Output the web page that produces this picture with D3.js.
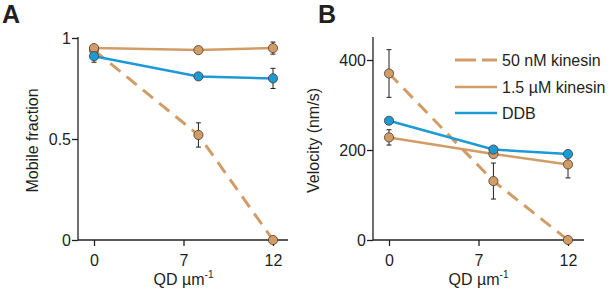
<!DOCTYPE html>
<html><head><meta charset="utf-8">
<script src="https://cdn.jsdelivr.net/npm/d3@7"></script>
<style>body{margin:0;background:#fff}svg{display:block;font-family:"Liberation Sans",Arial,sans-serif}</style>
</head><body><svg id="c" width="613" height="296"></svg>
<script>
const xVals = [0, 7, 12];
const xTickPos = [0, 6, 12];
const xTickLabels = ["0", "7", "12"];
const seriesNames = ["50 nM kinesin", "1.5 µM kinesin", "DDB"];
// Panel A: mobile fraction
const mobile50nM = [0.94, 0.52, 0.0];
const mobile50nMErr = [0, 0.06, 0];
const mobile15uM = [0.95, 0.94, 0.95];
const mobile15uMErr = [0, 0, 0.03];
const mobileDDB = [0.91, 0.81, 0.80];
const mobileDDBErr = [0.03, 0, 0.05];
const mobileTicks = [0, 0.5, 1];
const mobileTickLabels = ["0", "0.5", "1"];
// Panel B: velocity
const vel50nM = [370, 131, 0];
const vel50nMErr = [53, 40, 0];
const vel15uM = [228, 191, 168];
const vel15uMErr = [17, 0, 30];
const velDDB = [265, 201, 191];
const velDDBErr = [0, 0, 8];
const velTicks = [0, 200, 400];
const velTickLabels = ["0", "200", "400"];

const TAN = "#d29c66", BLUE = "#1b9ad6", INK = "#231f20";
const FS = 16;
const svg = d3.select("#c");

function panel(o) {
  const g = svg.append("g");
  const x = d3.scaleLinear().domain([0, 12]).range(o.xr);
  const y = d3.scaleLinear().domain(o.yd).range(o.yr);
  const yAx = d3.axisLeft(y).tickValues(o.yt).tickFormat((d, i) => o.ytl[i]).tickSize(6).tickSizeOuter(0);
  const ya = g.append("g").attr("transform", `translate(${o.axX},0)`).call(yAx);
  ya.select(".domain").remove();
  ya.append("line").attr("x1", 0).attr("x2", 0).attr("y1", o.axTop).attr("y2", o.axY).attr("stroke", INK).attr("stroke-width", 1.3);
  ya.selectAll(".tick line").attr("stroke", INK).attr("stroke-width", 1.3);
  ya.selectAll(".tick text").attr("fill", INK).attr("font-size", FS).attr("x", -7).attr("dy", "0.36em").attr("font-family", "Liberation Sans, Arial, sans-serif");
  const xAx = d3.axisBottom(x).tickValues(xTickPos).tickFormat((d, i) => xTickLabels[i]).tickSize(6).tickSizeOuter(0);
  const xa = g.append("g").attr("transform", `translate(0,${o.axY})`).call(xAx);
  xa.select(".domain").remove();
  xa.append("line").attr("x1", o.axX).attr("x2", o.axRight).attr("y1", 0).attr("y2", 0).attr("stroke", INK).attr("stroke-width", 1.3);
  xa.selectAll(".tick line").attr("stroke", INK).attr("stroke-width", 1.3);
  xa.selectAll(".tick text").attr("fill", INK).attr("font-size", FS).attr("y", 26).attr("dy", 0).attr("font-family", "Liberation Sans, Arial, sans-serif");
  const xt = g.append("text").attr("x", (o.xr[0] + o.xr[1]) / 2).attr("y", 285).attr("text-anchor", "middle")
    .attr("font-size", FS).attr("fill", INK).text("QD µm");
  xt.append("tspan").attr("font-size", 10).attr("dy", -7).text("-1");
  g.append("text").attr("transform", `translate(${o.ytX},${(o.axTop + o.axY) / 2 + 2}) rotate(-90)`)
    .attr("text-anchor", "middle").attr("font-size", FS).attr("fill", INK).text(o.ytitle);
  g.append("text").attr("x", o.lx).attr("y", 23).attr("font-size", 25).attr("font-weight", "bold").attr("fill", INK).text(o.letter);

  const line = d3.line().x((d, i) => x(xVals[i])).y(d => y(d));
  const series = [
    { v: o.s50, e: o.e50, c: TAN, dash: "13,8" },
    { v: o.s15, e: o.e15, c: TAN, dash: null },
    { v: o.sD, e: o.eD, c: BLUE, dash: null }
  ];
  series.forEach(s => {
    const p = g.append("path").datum(s.v).attr("d", line).attr("fill", "none").attr("stroke", s.c).attr("stroke-width", s.dash ? 3 : 2.5);
    if (s.dash) p.attr("stroke-dasharray", s.dash);
  });
  series.forEach(s => {
    s.v.forEach((v, i) => {
      if (s.e[i] > 0) {
        const cx = x(xVals[i]);
        g.append("line").attr("x1", cx).attr("x2", cx).attr("y1", y(v - s.e[i])).attr("y2", y(v + s.e[i])).attr("stroke", INK).attr("stroke-width", 1);
        [v - s.e[i], v + s.e[i]].forEach(w => g.append("line").attr("x1", cx - 2.5).attr("x2", cx + 2.5).attr("y1", y(w)).attr("y2", y(w)).attr("stroke", INK).attr("stroke-width", 1));
      }
    });
  });
  series.forEach(s => {
    g.selectAll(null).data(s.v).enter().append("circle").attr("cx", (d, i) => x(xVals[i])).attr("cy", d => y(d))
      .attr("r", 4.6).attr("fill", s.c).attr("stroke", "#4a3a2c").attr("stroke-width", 0.8);
  });
  return { g, series };
}

panel({ xr: [94, 273], yd: [0, 1], yr: [240, 38], yt: mobileTicks, ytl: mobileTickLabels, axX: 78, axY: 240, axTop: 37, axRight: 288,
  ytX: 38, ytitle: "Mobile fraction", letter: "A", lx: 2,
  s50: mobile50nM, e50: mobile50nMErr, s15: mobile15uM, e15: mobile15uMErr, sD: mobileDDB, eD: mobileDDBErr });
const pb = panel({ xr: [389, 568], yd: [0, 400], yr: [240, 60], yt: velTicks, ytl: velTickLabels, axX: 373, axY: 240, axTop: 37, axRight: 584,
  ytX: 319, ytitle: "Velocity (nm/s)", letter: "B", lx: 318,
  s50: vel50nM, e50: vel50nMErr, s15: vel15uM, e15: vel15uMErr, sD: velDDB, eD: velDDBErr });

const legY = [60, 87, 113];
const leg = svg.append("g");
seriesNames.forEach((n, i) => {
  const s = pb.series[i];
  const l = leg.append("line").attr("x1", 455).attr("x2", 497).attr("y1", legY[i]).attr("y2", legY[i]).attr("stroke", s.c).attr("stroke-width", s.dash ? 3 : 2.5);
  if (s.dash) l.attr("stroke-dasharray", "21,6");
  leg.append("text").attr("x", 502).attr("y", legY[i] + 6).attr("font-size", FS).attr("fill", INK).text(n);
});
</script></body></html>
